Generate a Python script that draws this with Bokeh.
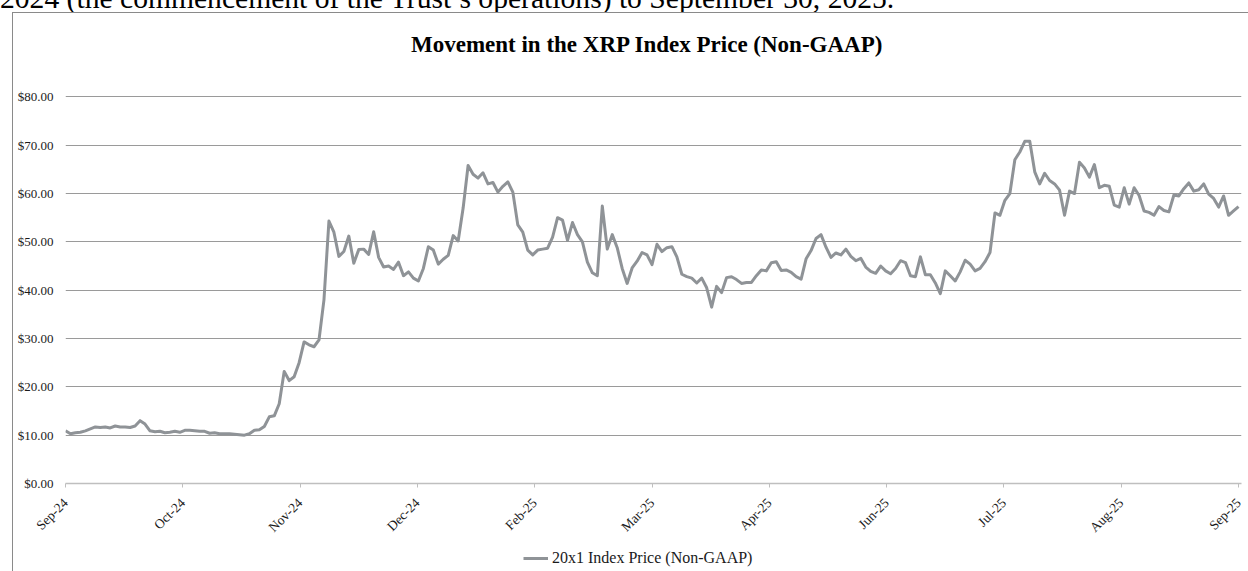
import numpy as np
from bokeh.plotting import figure
from bokeh.layouts import column
from bokeh.models import (Range1d, FixedTicker, NumeralTickFormatter, Legend,
                          LegendItem, Label, Div)
from bokeh.embed import file_html
from bokeh.resources import INLINE

# ---- data ----
page_text = "2024 (the commencement of the Trust\u2019s operations) to September 30, 2025."
chart_title = "Movement in the XRP Index Price (Non-GAAP)"
series_name = "20x1 Index Price (Non-GAAP)"
tick_labels = ["Sep-24", "Oct-24", "Nov-24", "Dec-24", "Feb-25", "Mar-25",
               "Apr-25", "Jun-25", "Jul-25", "Aug-25", "Sep-25"]
y_ticks = [0, 10, 20, 30, 40, 50, 60, 70, 80]
prices = [
    10.9, 10.3, 10.5, 10.6, 10.9, 11.3, 11.7, 11.6, 11.7, 11.5,
    11.9, 11.7, 11.7, 11.6, 11.9, 13.0, 12.3, 10.9, 10.7, 10.8,
    10.5, 10.6, 10.8, 10.6, 11.0, 11.0, 10.9, 10.8, 10.8, 10.4,
    10.5, 10.3, 10.3, 10.3, 10.2, 10.1, 10.0, 10.3, 11.0, 11.1,
    11.8, 13.8, 14.0, 16.5, 23.2, 21.3, 22.1, 25.0, 29.3, 28.7,
    28.3, 29.7, 38.0, 54.3, 52.0, 47.0, 48.0, 51.2, 45.6, 48.4,
    48.5, 47.4, 52.1, 46.8, 44.8, 45.0, 44.3, 45.8, 43.0, 43.8,
    42.5, 41.9, 44.5, 49.0, 48.3, 45.4, 46.4, 47.2, 51.3, 50.2,
    57.0, 65.8, 64.0, 63.2, 64.3, 62.0, 62.3, 60.3, 61.5, 62.4,
    60.3, 53.5, 52.0, 48.3, 47.3, 48.3, 48.5, 48.7, 51.0, 55.0,
    54.5, 50.3, 54.0, 51.5, 50.0, 45.8, 43.6, 43.0, 57.4, 48.5,
    51.5, 48.8, 44.5, 41.4, 44.6, 46.0, 47.8, 47.3, 45.3, 49.5,
    48.0, 48.8, 49.0, 46.9, 43.3, 42.8, 42.5, 41.5, 42.5, 40.5,
    36.5, 40.8, 39.5, 42.6, 42.8, 42.2, 41.4, 41.6, 41.6, 43.0,
    44.2, 44.0, 45.7, 45.9, 44.1, 44.2, 43.7, 42.8, 42.3, 46.5,
    48.2, 50.7, 51.5, 48.9, 46.8, 47.7, 47.3, 48.5, 47.0, 46.1,
    46.6, 44.8, 43.9, 43.5, 45.0, 44.0, 43.4, 44.5, 46.1, 45.7,
    43.0, 42.8, 46.9, 43.2, 43.2, 41.5, 39.3, 44.0, 43.0, 41.9,
    43.8, 46.2, 45.4, 44.0, 44.5, 45.9, 47.8, 56.0, 55.5, 58.6,
    60.0, 67.0, 68.6, 70.8, 70.8, 64.5, 62.0, 64.2, 62.7, 62.0,
    60.7, 55.5, 60.5, 60.0, 66.5, 65.3, 63.4, 66.0, 61.2, 61.7,
    61.5, 57.6, 57.2, 61.2, 57.8, 61.2, 59.6, 56.4, 56.1, 55.5,
    57.3, 56.5, 56.2, 59.7, 59.5, 61.0, 62.2, 60.5, 60.8, 62.0,
    59.9, 59.0, 57.2, 59.5, 55.5, 56.4, 57.3,
]

# x position: label slots (each tick label is one unit apart)
pts_per_label = (len(prices) - 1) / (len(tick_labels) - 1)
x = np.arange(len(prices)) / pts_per_label

SERIF = "Liberation Serif"
LINE_COLOR = "#8f9397"
TEXT_COLOR = "#1a1a1a"

# ---- line of the surrounding document, cut off by the top of the page ----
top_text = Div(
    text=('<div style="position:relative; top:-16px; left:0px; white-space:nowrap; '
          'font-family:\'Liberation Serif\'; font-size:29.6px; line-height:1; '
          'color:#000;">' + page_text + '</div>'),
    width=1248, height=12, margin=0,
    styles={"overflow": "hidden"})

# ---- main chart ----
p = figure(width=1235, height=533, output_backend="svg", toolbar_location=None,
           title=None,
           x_range=Range1d(0, (len(prices) - 1 + 0.6) / pts_per_label),
           y_range=Range1d(0, 97.26),
           min_border_left=52, min_border_right=7, min_border_top=0, min_border_bottom=63)
p.outline_line_color = None
p.background_fill_color = "white"
p.border_fill_color = "white"

r = p.line(x, prices, line_color=LINE_COLOR, line_width=3, line_join="round")

# chart title, placed in the headroom above the $80 line
p.add_layout(Label(x=4.96, y=90.8, text=chart_title, text_align="center",
                   text_baseline="middle", text_font=SERIF, text_font_style="bold",
                   text_font_size="23px", text_color="#000000"))

# grid
p.xgrid.grid_line_color = None
p.ygrid.ticker = FixedTicker(ticks=y_ticks)
p.ygrid.grid_line_color = "#9a9a9a"
p.ygrid.grid_line_width = 1

# y axis
p.yaxis.ticker = FixedTicker(ticks=y_ticks)
p.yaxis.formatter = NumeralTickFormatter(format="$0.00")
p.yaxis.axis_line_color = None
p.yaxis.major_tick_line_color = None
p.yaxis.major_tick_out = 0
p.yaxis.major_tick_in = 0
p.yaxis.minor_tick_line_color = None
p.yaxis.major_label_standoff = 12
p.yaxis.major_label_text_font = SERIF
p.yaxis.major_label_text_font_size = "13px"
p.yaxis.major_label_text_color = TEXT_COLOR

# x axis
p.xaxis.ticker = FixedTicker(ticks=list(range(len(tick_labels))))
p.xaxis.major_label_overrides = {i: lbl for i, lbl in enumerate(tick_labels)}
p.xaxis.major_label_orientation = np.pi / 4
p.xaxis.axis_line_color = "#bfbfbf"
p.xaxis.axis_line_width = 1.5
p.xaxis.major_tick_line_color = "#bfbfbf"
p.xaxis.major_tick_out = 4
p.xaxis.major_tick_in = 0
p.xaxis.minor_tick_line_color = None
p.xaxis.major_label_standoff = 13
p.xaxis.major_label_text_font = SERIF
p.xaxis.major_label_text_font_size = "13.5px"
p.xaxis.major_label_text_color = TEXT_COLOR

# ---- legend strip under the chart ----
leg = figure(width=1235, height=25, output_backend="svg", toolbar_location=None,
             title=None, x_axis_type=None, y_axis_type=None,
             x_range=Range1d(0, 1), y_range=Range1d(0, 1),
             min_border=0)
leg.outline_line_color = None
leg.background_fill_color = "white"
leg.border_fill_color = "white"
leg.xgrid.grid_line_color = None
leg.ygrid.grid_line_color = None
# key renderer: its (off-range) points only serve the legend swatch
key = leg.line([-10, -9], [-10, -9], line_color=LINE_COLOR, line_width=3)
legend = Legend(items=[LegendItem(label=series_name, renderers=[key])],
                location=(458, 3), orientation="horizontal",
                glyph_width=25, glyph_height=20, label_standoff=4,
                padding=0, margin=0, spacing=0,
                border_line_color=None, background_fill_alpha=0,
                label_text_font=SERIF, label_text_font_size="16px",
                label_text_color=TEXT_COLOR)
leg.add_layout(legend)

chart = column(p, leg, spacing=0)
chart.styles = {"margin-left": "12px",
                "border-left": "1px solid #8a8a8a", "border-top": "1px solid #8a8a8a"}

layout = column(top_text, chart, spacing=0)

open("out.html", "w").write(file_html(layout, INLINE))
